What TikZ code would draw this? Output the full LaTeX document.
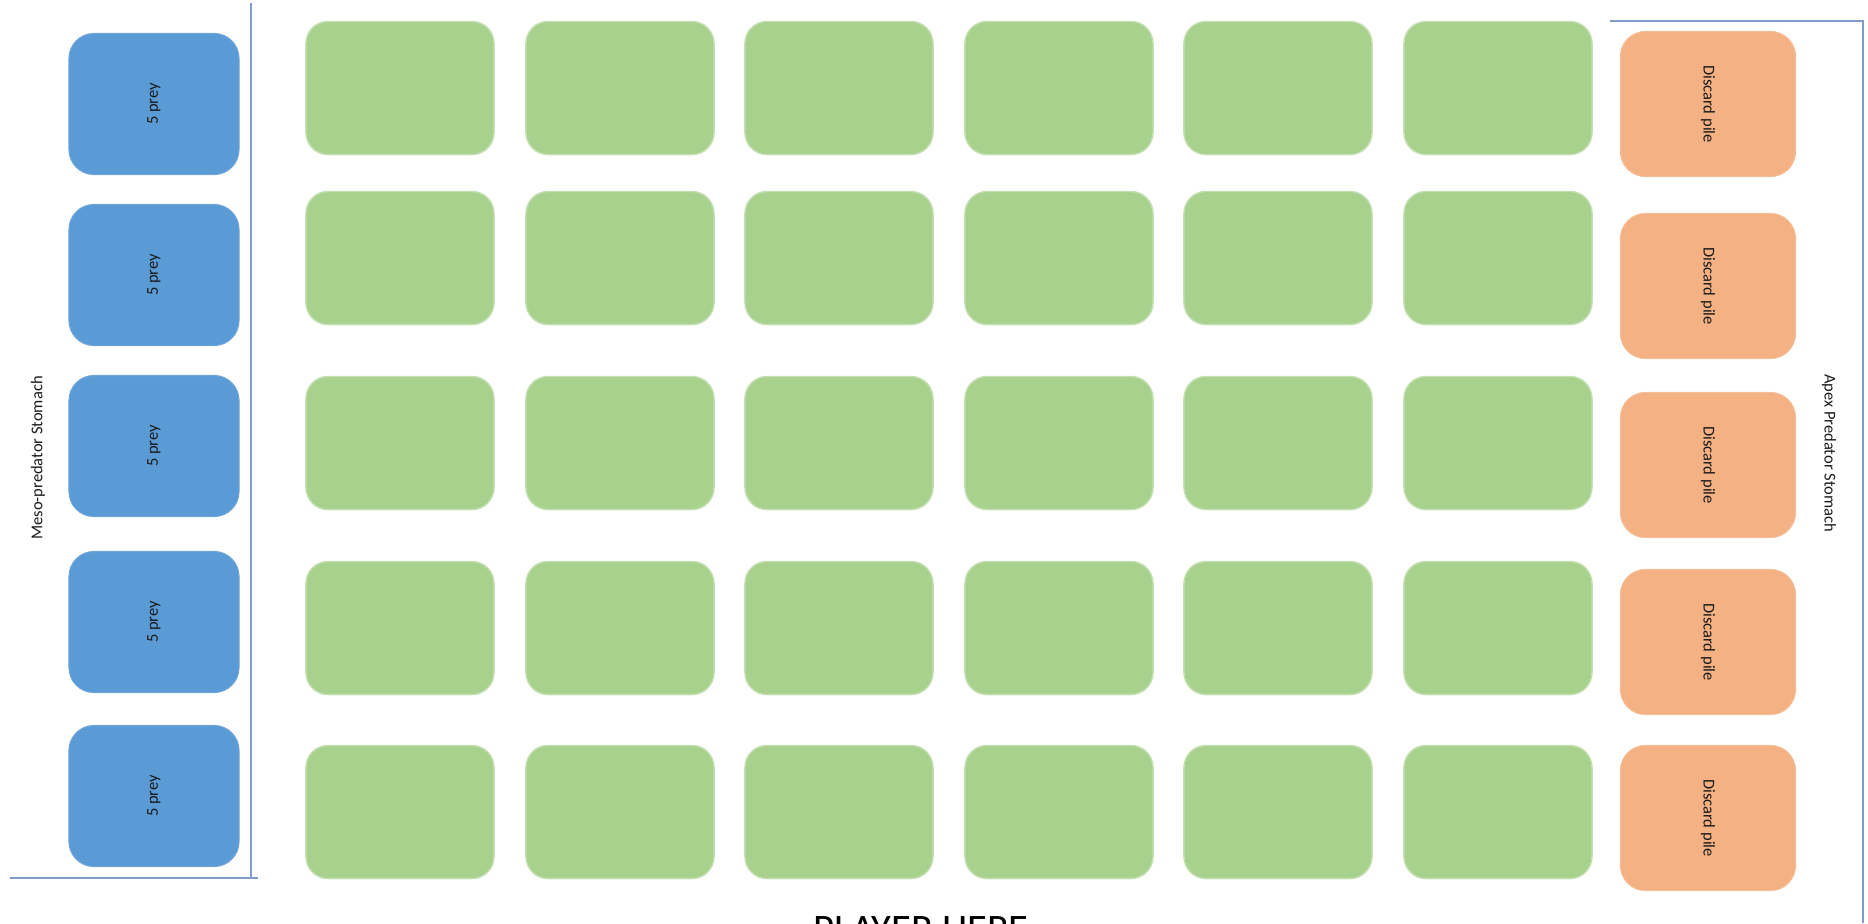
\documentclass[tikz,border=0pt]{standalone}
\usepackage{fontspec}
\setmainfont{Carlito}
\usetikzlibrary{positioning}
\definecolor{prey}{HTML}{5B9BD5}
\definecolor{preyline}{HTML}{6FA6DA}
\definecolor{grid}{HTML}{A9D18E}
\definecolor{gridline}{HTML}{C4DFB2}
\definecolor{discard}{HTML}{F4B183}
\definecolor{discardline}{HTML}{F6BE96}
\definecolor{rule}{HTML}{7F9CCB}
\definecolor{ink}{HTML}{1A1A1A}

\begin{document}
\begin{tikzpicture}[x=0.01cm,y=-0.01cm,
    small/.style={font=\fontsize{4.7}{5}\selectfont,text=ink},
    preybox/.style={small,rounded corners=2.5mm,fill=prey,draw=preyline,line width=0.3pt,rotate=90,minimum width=1.41cm,minimum height=1.70cm,inner sep=0pt},
    gridbox/.style={rounded corners=2.2mm,fill=grid,draw=gridline,line width=0.4pt,minimum width=1.88cm,minimum height=1.33cm,inner sep=0pt},
    pilebox/.style={small,rounded corners=2.5mm,fill=discard,draw=discardline,line width=0.3pt,rotate=-90,minimum width=1.45cm,minimum height=1.75cm,inner sep=0pt},
    rulel/.style={draw=rule,line width=0.5pt}]
  \useasboundingbox (0,0) rectangle (1868,923);

  % stomach of the meso-predator
  \node[preybox] (p1) at (154,104) {5 prey};
  \node[preybox] (p2) at (154,275) {5 prey};
  \node[preybox] (p3) at (154,446) {5 prey};
  \node[preybox] (p4) at (154,622) {5 prey};
  \node[preybox] (p5) at (154,796) {5 prey};
  \node[small,rotate=90] (meso) at (38,458) {Meso-predator Stomach};
  \draw[rulel] (251,3) -- (251,878);
  \draw[rulel] (10,878) -- (258,878);

  % board
  \foreach \y [count=\r] in {88,258,443,628,812}
    \foreach \x [count=\c] in {400,620,839,1059,1278,1498}
      \node[gridbox] (g\r\c) at (\x,\y) {};

  % stomach of the apex predator
  \node[pilebox] (d1) at (1708,104) {Discard pile};
  \node[pilebox] (d2) at (1708,286) {Discard pile};
  \node[pilebox] (d3) at (1708,465) {Discard pile};
  \node[pilebox] (d4) at (1708,642) {Discard pile};
  \node[pilebox] (d5) at (1708,818) {Discard pile};
  \node[small,rotate=-90] (apex) at (1829,453) {Apex Predator Stomach};
  \draw[rulel] (1610,21) -- (1863,21) -- (1863,923);

  \node[anchor=north,inner sep=0pt,font=\fontsize{11.5}{12}\selectfont] (player) at (921,916) {PLAYER HERE};
\end{tikzpicture}
\end{document}
